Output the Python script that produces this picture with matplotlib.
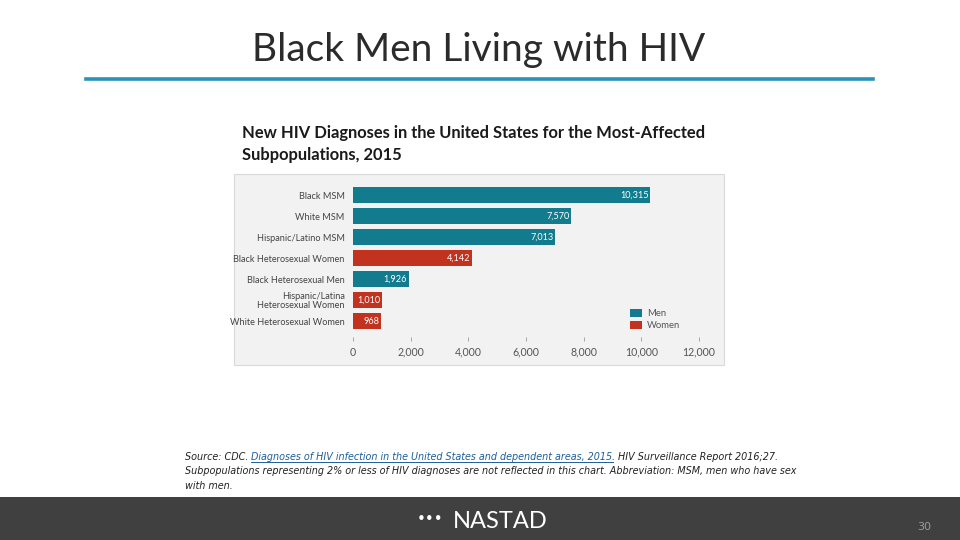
import matplotlib
matplotlib.use("Agg")
import matplotlib.pyplot as plt
from matplotlib.patches import Rectangle
from matplotlib.lines import Line2D

categories = ["Black MSM", "White MSM", "Hispanic/Latino MSM", "Black Heterosexual Women",
              "Black Heterosexual Men", "Hispanic/Latina\nHeterosexual Women", "White Heterosexual Women"]
values = [10315, 7570, 7013, 4142, 1926, 1010, 968]
value_labels = ["10,315", "7,570", "7,013", "4,142", "1,926", "1,010", "968"]
groups = ["Men", "Men", "Men", "Women", "Men", "Women", "Women"]
xticks = [0, 2000, 4000, 6000, 8000, 10000, 12000]
xtick_labels = ["0", "2,000", "4,000", "6,000", "8,000", "10,000", "12,000"]

TEAL = "#127b8e"
RED = "#c1321f"
colors = {"Men": TEAL, "Women": RED}

W, H = 960, 540
fig = plt.figure(figsize=(9.6, 5.4), dpi=100)
fig.patch.set_facecolor("white")

def fx(px):
    return px / W

def fy(py):
    return 1 - py / H

# Title
fig.text(fx(479), fy(50), "Black Men Living with HIV", ha="center", va="center",
         fontsize=28, family="Lato", color="#2b2b2b", fontweight="normal")
fig.add_artist(Line2D([fx(86), fx(873)], [fy(79), fy(79)], color="#2a93b5", lw=2.6))

# Subtitle
fig.text(fx(242), fy(133), "New HIV Diagnoses in the United States for the Most-Affected",
         ha="left", va="center", fontsize=11.9, family="Lato", fontweight="bold", color="#1a1a1a")
fig.text(fx(242), fy(155), "Subpopulations, 2015",
         ha="left", va="center", fontsize=11.9, family="Lato", fontweight="bold", color="#1a1a1a")

# Grey chart box
fig.add_artist(Rectangle((fx(234), fy(365)), fx(724) - fx(234), fy(174) - fy(365),
                         transform=fig.transFigure, facecolor="#f2f2f2", edgecolor="#d9d9d9",
                         lw=0.8, zorder=-5))

# Chart axes
ax = fig.add_axes([fx(353), fy(337), fx(699) - fx(353), fy(184.5) - fy(337)])
ax.set_zorder(5)
ax.set_facecolor("none")
ypos = list(range(len(categories)))
ax.barh(ypos, values, height=0.74, color=[colors[g] for g in groups])
ax.set_ylim(6.76, -0.5)
ax.set_xlim(0, 12000)
for s in ax.spines.values():
    s.set_visible(False)
ax.set_yticks(ypos)
ax.set_yticklabels(categories, fontsize=6.6, color="#444444", family="Lato",
                   linespacing=0.95)
ax.tick_params(axis="y", length=0, pad=6)
ax.set_xticks(xticks)
ax.set_xticklabels(xtick_labels, fontsize=7.6, color="#555555", family="Lato")
ax.tick_params(axis="x", length=3, color="#999999", width=0.6, pad=4)
for y, v, lab in zip(ypos, values, value_labels):
    ax.text(v - 60, y, lab, ha="right", va="center", color="white", fontsize=6.6,
            family="Lato")

# Legend
for py, g in [(313, "Men"), (325, "Women")]:
    fig.add_artist(Rectangle((fx(630), fy(py + 4)), fx(12), fy(py - 4) - fy(py + 4),
                             transform=fig.transFigure, facecolor=colors[g], edgecolor="none",
                             zorder=6))
    fig.text(fx(647), fy(py), g, ha="left", va="center", fontsize=6.8, color="#555555",
             family="Lato", zorder=6)

# Source text
renderer = fig.canvas.get_renderer()
fs = 6.9
def piece(x, y, s, color="#222222"):
    t = fig.text(x, y, s, ha="left", va="center", fontsize=fs, style="italic",
                 family="DejaVu Sans", color=color)
    bb = t.get_window_extent(renderer=renderer)
    return t, bb

x0 = fx(185)
y1 = fy(457)
t, bb = piece(x0, y1, "Source: CDC. ")
x = bb.x1 / W
t, bb = piece(x, y1, "Diagnoses of HIV infection in the United States and dependent areas, 2015",
              color="#1f5f99")
fig.add_artist(Line2D([bb.x0 / W, bb.x1 / W], [fy(462), fy(462)], color="#1f5f99", lw=0.7))
x = bb.x1 / W
piece(x, y1, ". HIV Surveillance Report 2016;27.")
piece(x0, fy(471), "Subpopulations representing 2% or less of HIV diagnoses are not reflected in this chart. "
                   "Abbreviation: MSM, men who have sex")
piece(x0, fy(486), "with men.")

# Footer
fig.add_artist(Rectangle((0, 0), 1, fy(497), transform=fig.transFigure,
                         facecolor="#404040", edgecolor="none", zorder=-5))
fig.text(fx(500), fy(522), "NASTAD", ha="center", va="center", fontsize=17, color="white",
         family="Lato")
fig.text(fx(430), fy(520), "\u2022\u2022\u2022", ha="center", va="center", fontsize=11, color="white")
fig.text(fx(924), fy(527), "30", ha="center", va="center", fontsize=8, color="#9a9a9a")

fig.savefig("out.png", dpi=100, facecolor=fig.get_facecolor())
